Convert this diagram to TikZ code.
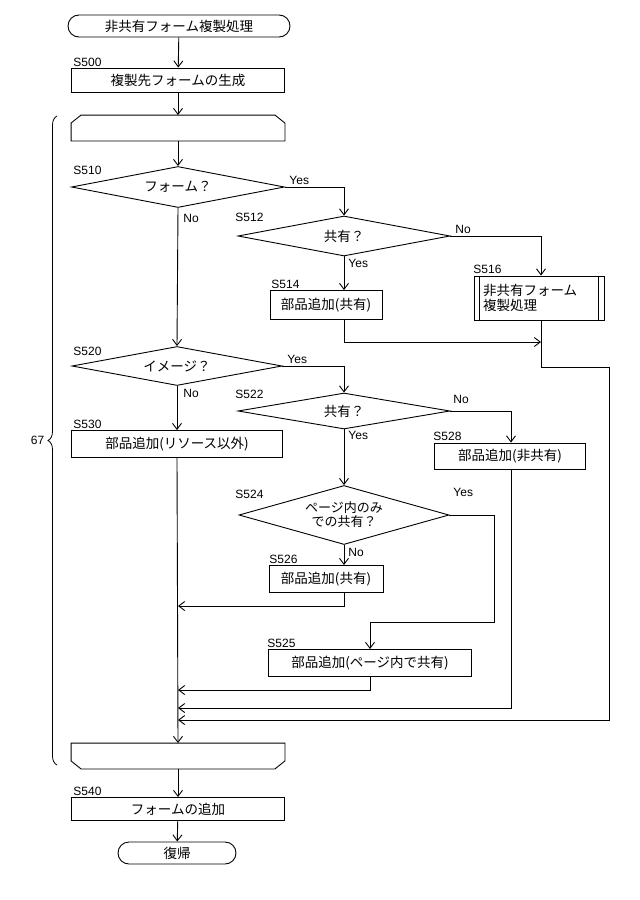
\documentclass[tikz,border=0pt]{standalone}
\usepackage{fontspec}
\setmainfont{Liberation Sans}
\newfontfamily\jp{Noto Sans CJK JP}
\usetikzlibrary{shapes.geometric,shapes.misc,arrows.meta,decorations.pathreplacing}
\begin{document}
\begin{tikzpicture}[x=1pt,y=-1pt,line width=0.9pt,
  every node/.style={font=\jp\fontsize{13.5}{15}\selectfont},
  box/.style={draw,rectangle,inner sep=0pt},
  dia/.style={draw,diamond,inner sep=0pt,align=center},
  term/.style={draw,rounded rectangle,inner sep=0pt},
  lbl/.style={font=\fontsize{12}{13}\selectfont,anchor=south west,inner sep=1pt},
  yn/.style={font=\fontsize{12}{13}\selectfont,inner sep=1pt},
  arr/.style={-{Straight Barb[length=6pt,width=9pt]}},
  loopa/.style={rectangle,inner sep=0pt,minimum width=213pt,minimum height=25pt}]
\useasboundingbox (0,0) rectangle (640,900);
\fill[white] (0,0) rectangle (640,900);
% main column
\node[term,minimum width=222pt,minimum height=22pt] (start) at (179,26) {非共有フォーム複製処理};
\node[box,minimum width=213pt,minimum height=24pt] (s500) at (178,80) {複製先フォームの生成};
\node[lbl] at (72,68) {S500};
\node[loopa] (ls) at (178,128) {};
\draw (ls.south west) -- ([yshift=-8pt]ls.north west) -- ([xshift=10pt]ls.north west) -- ([xshift=-10pt]ls.north east) -- ([yshift=-8pt]ls.north east) -- (ls.south east) -- cycle;
\node[dia,minimum width=213pt,minimum height=41pt,aspect=5.2] (s510) at (178,187) {フォーム？};
\node[lbl] at (72,176) {S510};
\node[dia,minimum width=212pt,minimum height=40pt,aspect=5.3] (s512) at (344,236) {共有？};
\node[lbl] at (234,223) {S512};
\node[box,minimum width=112pt,minimum height=29pt] (s514) at (326,305) {部品追加(共有)};
\node[lbl] at (270,290) {S514};
\node[box,minimum width=130pt,minimum height=44pt,align=left,text width=112pt] (s516) at (539,298) {非共有フォーム\\複製処理};
\draw ([xshift=6pt]s516.north west) -- ([xshift=6pt]s516.south west);
\draw ([xshift=-6pt]s516.north east) -- ([xshift=-6pt]s516.south east);
\node[lbl] at (472,275) {S516};
\node[dia,minimum width=210pt,minimum height=39pt,aspect=5.4] (s520) at (177,366) {イメージ？};
\node[lbl] at (72,357) {S520};
\node[dia,minimum width=212pt,minimum height=36pt,aspect=5.9] (s522) at (344,411) {共有？};
\node[lbl] at (234,400) {S522};
\node[box,minimum width=151pt,minimum height=26pt] (s528) at (510,456) {部品追加(非共有)};
\node[lbl] at (432,442) {S528};
\node[box,minimum width=211pt,minimum height=27pt] (s530) at (177,444) {部品追加(リソース以外)};
\node[lbl] at (72,430) {S530};
\node[dia,minimum width=210pt,minimum height=59pt,aspect=3.56,font=\jp\fontsize{13}{14}\selectfont] (s524) at (344,515) {ページ内のみ\\での共有？};
\node[lbl] at (234,500) {S524};
\node[box,minimum width=114pt,minimum height=27pt] (s526) at (326,579) {部品追加(共有)};
\node[lbl] at (268,565) {S526};
\node[box,minimum width=203pt,minimum height=27pt] (s525) at (370,663) {部品追加(ページ内で共有)};
\node[lbl] at (266,649) {S525};
\node[loopa] (le) at (178,756) {};
\draw (le.north west) -- ([yshift=8pt]le.south west) -- ([xshift=10pt]le.south west) -- ([xshift=-10pt]le.south east) -- ([yshift=8pt]le.south east) -- (le.north east) -- cycle;
\node[box,minimum width=213pt,minimum height=23pt] (s540) at (178,809) {フォームの追加};
\node[lbl] at (72,797) {S540};
\node[term,minimum width=118pt,minimum height=22pt] (ret) at (177,853) {復帰};
% coordinates
\coordinate (c1) at (344,187);
\coordinate (c2) at (541,236);
\coordinate (c3) at (344,342);
\coordinate (c4) at (541,342);
\coordinate (c5) at (541,367);
\coordinate (c6) at (609,367);
\coordinate (c7) at (609,720);
\coordinate (m7) at (178,720);
\coordinate (c8) at (344,366);
\coordinate (c9) at (511,411);
\coordinate (c10) at (511,708);
\coordinate (m10) at (178,708);
\coordinate (c11) at (494,515);
\coordinate (c12) at (494,622);
\coordinate (c13) at (370,622);
\coordinate (c14) at (344,606);
\coordinate (m14) at (178,606);
\coordinate (c15) at (370,690);
\coordinate (m15) at (178,690);
% connectors
\draw[arr] (start) -- (s500);
\draw[arr] (s500) -- (ls);
\draw[arr] (ls) -- (s510);
\draw[arr] (s510.east) -- (c1) -- (s512.north);
\draw[arr] (s510.south) -- (s520.north);
\draw[arr] (s512.east) -- (c2) -- (s516.north -| c2);
\draw[arr] (s512.south) -- (s514.north -| s512.south);
\draw[arr] (s514.south -| c3) -- (c3) -- (c4);
\draw[arr] (s516.south -| c5) -- (c5) -- (c6) -- (c7) -- (m7);
\draw[arr] (s520.east) -- (c8) -- (s522.north);
\draw[arr] (s520.south) -- (s530.north);
\draw[arr] (s522.east) -- (c9) -- (s528.north -| c9);
\draw[arr] (s528.south -| c9) -- (c10) -- (m10);
\draw[arr] (s522.south) -- (s524.north);
\draw[arr] (s524.south) -- (s526.north -| s524.south);
\draw[arr] (s524.east) -- (c11) -- (c12) -- (c13) -- (s525.north -| c13);
\draw[arr] (s526.south -| c14) -- (c14) -- (m14);
\draw[arr] (s525.south -| c15) -- (c15) -- (m15);
\draw[arr] (s530.south) -- (le.north);
\draw[arr] (le) -- (s540);
\draw[arr] (s540) -- (ret);
% yes/no labels
\node[yn,anchor=south west] at (288,186) {Yes};
\node[yn,anchor=north west] at (182,213) {No};
\node[yn,anchor=south west] at (454,235) {No};
\node[yn,anchor=north west] at (347,258) {Yes};
\node[yn,anchor=south west] at (286,365) {Yes};
\node[yn,anchor=north west] at (182,388) {No};
\node[yn,anchor=south west] at (452,405) {No};
\node[yn,anchor=north west] at (347,430) {Yes};
\node[yn,anchor=south west] at (452,498) {Yes};
\node[yn,anchor=north west] at (347,547) {No};
% brace
\draw[line width=0.8pt,decorate,decoration={brace,amplitude=9pt}] (57,765) -- node[left=9pt,font=\fontsize{12}{13}\selectfont] {67} (57,116);
\end{tikzpicture}
\end{document}
